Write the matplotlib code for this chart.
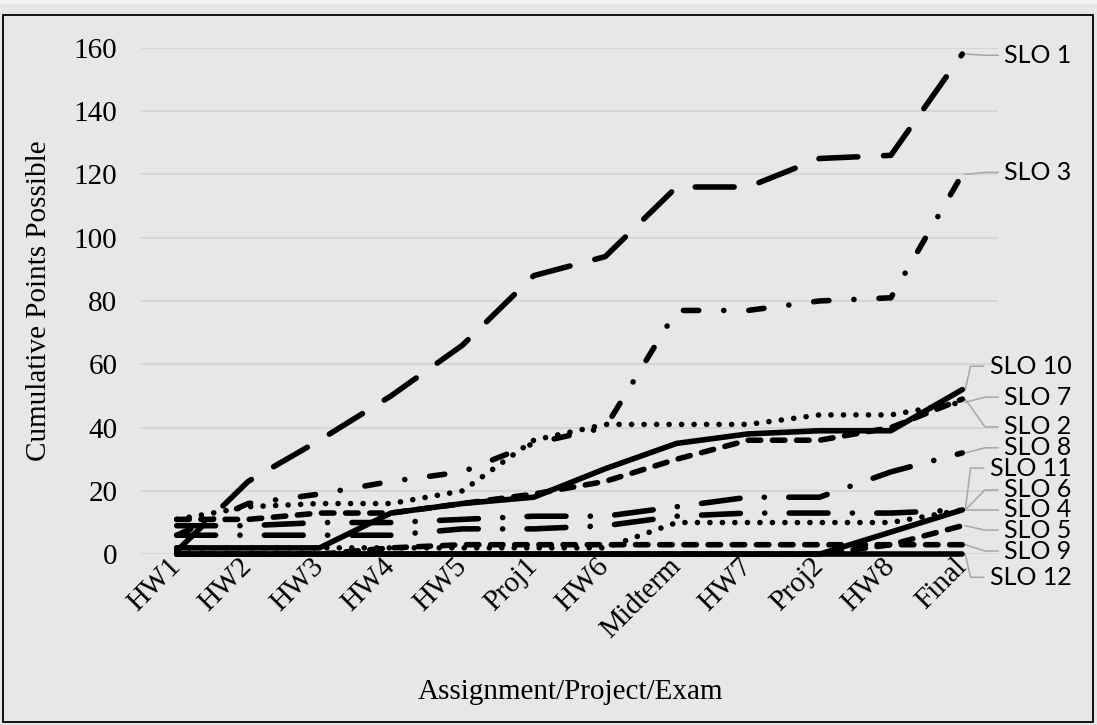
"""
Cumulative points possible per SLO across the course assignments.
"""
import matplotlib.pyplot as plt
from matplotlib.patches import Rectangle

plt.rcParams['lines.scale_dashes'] = False

categories = ["HW1", "HW2", "HW3", "HW4", "HW5", "Proj1", "HW6",
              "Midterm", "HW7", "Proj2", "HW8", "Final"]

slo1 = [1, 23, 36, 50, 66, 88, 94, 116, 116, 125, 126, 158]
slo2 = [11, 11, 13, 13, 16, 19, 23, 30, 36, 36, 40, 49]
slo3 = [6, 16, 19, 23, 26, 35, 40, 77, 77, 80, 81, 120]
slo4 = [6, 6, 6, 6, 8, 8, 9, 12, 13, 13, 13, 14]
slo5 = [0, 0, 0, 0, 0, 0, 0, 0, 0, 0, 3, 9]
slo6 = [2, 2, 2, 2, 2, 2, 2, 10, 10, 10, 10, 14]
slo7 = [11, 15, 16, 16, 20, 36, 41, 41, 41, 44, 44, 48]
slo8 = [9, 9, 10, 10, 11, 12, 12, 15, 18, 18, 26, 32]
slo9 = [0, 0, 0, 2, 3, 3, 3, 3, 3, 3, 3, 3]
slo10 = [2, 2, 2, 13, 16, 18, 27, 35, 38, 39, 39, 52]
slo11 = [0, 0, 0, 0, 0, 0, 0, 0, 0, 0, 7, 14]
slo12 = [0, 0, 0, 0, 0, 0, 0, 0, 0, 0, 0, 0]

# line styles (points, unscaled)
long_dash = (0, (28, 18.5))
dash_dot = (0, (11, 18, 0.1, 18))
long_dash_dot = (0, (28, 17.5, 0.1, 17.5))
round_dot = (0, (0.1, 8.9))
med_dash = (0, (9, 8.4))

series = [
    ("SLO 1", slo1, long_dash),
    ("SLO 2", slo2, med_dash),
    ("SLO 3", slo3, dash_dot),
    ("SLO 4", slo4, long_dash_dot),
    ("SLO 5", slo5, med_dash),
    ("SLO 6", slo6, round_dot),
    ("SLO 7", slo7, round_dot),
    ("SLO 8", slo8, long_dash_dot),
    ("SLO 9", slo9, med_dash),
    ("SLO 10", slo10, '-'),
    ("SLO 11", slo11, '-'),
    ("SLO 12", slo12, '-'),
]

# where each end label sits (y in data units)
label_y = {"SLO 1": 157.6, "SLO 3": 120.6, "SLO 10": 59.4, "SLO 7": 49.6,
           "SLO 2": 40.2, "SLO 8": 33.6, "SLO 11": 27.2, "SLO 6": 20.3,
           "SLO 4": 14.0, "SLO 5": 7.6, "SLO 9": 1.0, "SLO 12": -7.3}

W, H = 1097, 725
BG = '#E7E7E7'

fig = plt.figure(figsize=(W / 100, H / 100), dpi=100, facecolor=BG)
fig.patches.append(Rectangle((0, 1 - 4 / H), 1, 4 / H, transform=fig.transFigure,
                             facecolor='#F2F2F2', edgecolor='none'))
fig.patches.append(Rectangle((3 / W, 3 / H), (1093 - 3) / W, (722 - 15) / H,
                             transform=fig.transFigure, facecolor='none',
                             edgecolor='black', lw=1.3))

ax_left, ax_right, ax_top, ax_bottom = 141, 998, 47.7, 554.2
ax = fig.add_axes([ax_left / W, 1 - ax_bottom / H,
                   (ax_right - ax_left) / W, (ax_bottom - ax_top) / H])
ax.set_facecolor(BG)
for s in ax.spines.values():
    s.set_visible(False)

x = list(range(len(categories)))
for name, vals, ls in series:
    ax.plot(x, vals, color='black', lw=4.0, linestyle=ls,
            dash_capstyle='round', solid_capstyle='round',
            solid_joinstyle='round', clip_on=False)

ax.set_xlim(-0.5, 11.5)
ax.set_ylim(0, 160)
ax.set_yticks(range(0, 161, 20))
ax.grid(axis='y', color='#D6D6D6', lw=1.5)
ax.set_axisbelow(True)
ax.set_xticks(x)
ax.set_xticklabels(categories, rotation=45, ha='right', va='center',
                   rotation_mode='anchor')
ax.tick_params(axis='y', length=0, pad=17, labelsize=21)
ax.tick_params(axis='x', length=0, pad=6, labelsize=21)
for t in ax.get_xticklabels() + ax.get_yticklabels():
    t.set_family('Liberation Serif')

fig.text(39 / W, 1 - 301 / H, "Cumulative Points Possible", rotation=90,
         ha='center', va='center', fontsize=21, family='Liberation Serif')
fig.text(570 / W, 1 - 692 / H, "Assignment/Project/Exam",
         ha='center', va='center', fontsize=21, family='Liberation Serif')

# end labels with leader lines
px_x = 12 / (ax_right - ax_left)
texts = []
for name, vals, ls in series:
    t = ax.text(11 + 109 * px_x, label_y[name], name, ha='right', va='center',
                fontsize=18, family='Lato', clip_on=False)
    texts.append((t, vals[-1], label_y[name]))

fig.canvas.draw()
inv = ax.transData.inverted()
for t, yend, ly in texts:
    bb = t.get_window_extent()
    left = inv.transform((bb.x0, bb.y0))[0]
    end = left - 6 * px_x
    elbow = end - 13 * px_x
    ax.plot([11 + 3 * px_x, elbow, end], [yend, ly, ly], color='#A6A6A6',
            lw=1.1, clip_on=False, zorder=1)

fig.savefig("out.png", dpi=100, facecolor=BG)
